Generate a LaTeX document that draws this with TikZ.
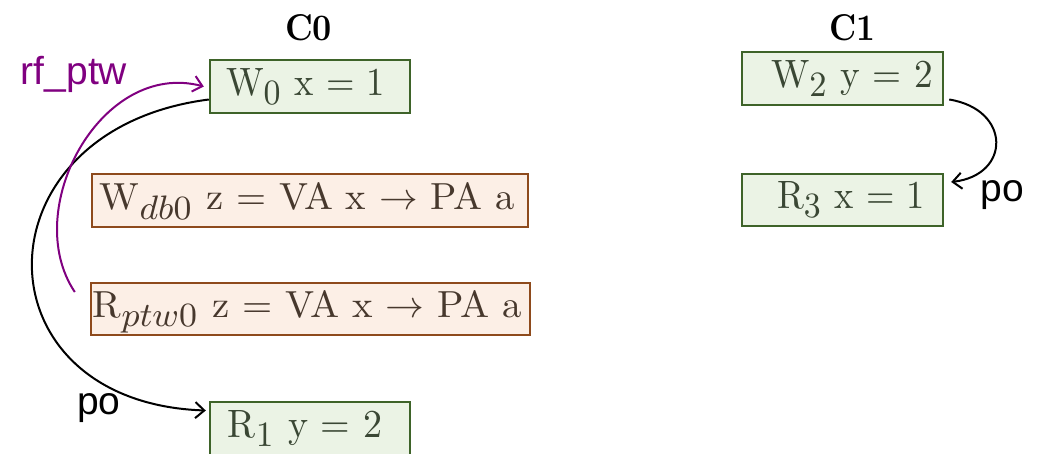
\documentclass[tikz,border=0pt]{standalone}
\usepackage{fontspec}
\usepackage{graphicx}
\DeclareMathSizes{10}{10}{9}{7}
\newfontfamily\labelfont{Liberation Sans}
\usetikzlibrary{arrows.meta}
\definecolor{gfill}{HTML}{EBF3E5}
\definecolor{gdraw}{HTML}{3E6329}
\definecolor{gtext}{HTML}{3A4734}
\definecolor{ofill}{HTML}{FCEFE6}
\definecolor{odraw}{HTML}{8E4A1C}
\definecolor{otext}{HTML}{47382D}
\definecolor{rfcol}{HTML}{800080}
\newcommand{\boxtext}[3]{\hspace*{#1}\resizebox{#2}{27pt}{#3}}
\tikzset{
  gbox/.style={draw=gdraw, fill=gfill, text=gtext, line width=2.4pt, inner sep=0pt,
    text height=27pt, text depth=10pt},
  obox/.style={draw=odraw, fill=ofill, text=otext, line width=2.4pt, inner sep=0pt,
    text height=27pt, text depth=10pt},
  thread/.style={inner sep=0pt, anchor=base},
  elabel/.style={font=\labelfont\fontsize{39}{41}\selectfont},
  arr/.style={line width=2pt, -{Straight Barb[length=9pt,width=16pt,line width=2pt]}},
}
\begin{document}
\begin{tikzpicture}[x=1pt,y=-1pt]
\useasboundingbox (0,0) rectangle (1038,453);
\node[thread] (c0) at (308.5,40) {\resizebox{47pt}{26pt}{\bfseries C0}};
\node[thread] (c1) at (852,40) {\resizebox{46pt}{26pt}{\bfseries C1}};
\node[gbox, minimum width=200pt, minimum height=53pt] (w0) at (310,86.5)
  {\boxtext{-9pt}{159pt}{W$_{0}$ x = 1}};
\node[obox, minimum width=436pt, minimum height=53pt] (wdb) at (310,200.5)
  {\boxtext{-5pt}{415pt}{W$_{db0}$ z = VA x $\rightarrow$ PA a}};
\node[obox, minimum width=439pt, minimum height=52pt] (rptw) at (310.5,309)
  {\boxtext{-6pt}{429pt}{R$_{ptw0}$ z = VA x $\rightarrow$ PA a}};
\node[gbox, minimum width=200pt, minimum height=53pt] (r1) at (310,428.5)
  {\boxtext{-10pt}{154pt}{R$_{1}$ y = 2}};
\node[gbox, minimum width=201pt, minimum height=53pt] (w2) at (842.5,78.5)
  {\boxtext{19pt}{162pt}{W$_{2}$ y = 2}};
\node[gbox, minimum width=201pt, minimum height=52pt] (r3) at (842.5,200)
  {\boxtext{17pt}{148pt}{R$_{3}$ x = 1}};
% po C0
\draw[arr, black] ([yshift=-13pt]w0.west) .. controls +(-235,30) and +(-232,-8) .. ([xshift=-3pt,yshift=18pt]r1.west);
% rf_ptw
\draw[arr, rfcol] ([xshift=-15pt,yshift=17pt]rptw.west) .. controls +(-55,-82) and +(-103,-27) .. ([xshift=-5pt]w0.west);
% po C1
\draw[arr, black] ([xshift=5pt,yshift=-21pt]w2.east) .. controls +(62,10) and +(60,-7) .. ([xshift=7pt,yshift=18pt]r3.east);
\node[elabel, text=rfcol] (lrf) at (74,74) {rf\_ptw};
\node[elabel] (lpo0) at (99,408) {po};
\node[elabel] (lpo1) at (1002,195) {po};
\end{tikzpicture}
\end{document}
